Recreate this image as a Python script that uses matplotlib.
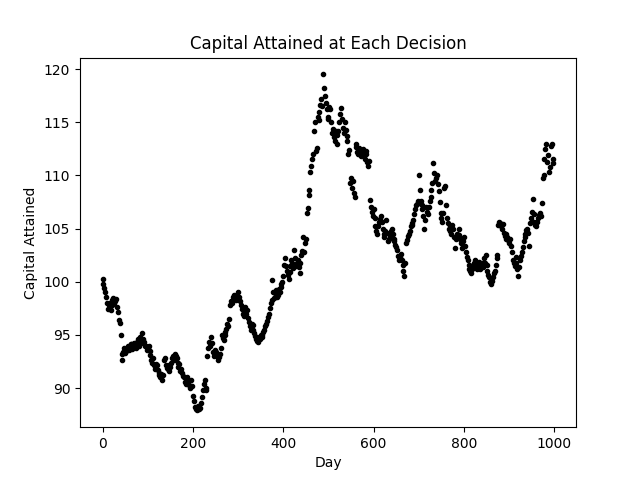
import matplotlib
matplotlib.use('Agg')
import matplotlib.pyplot as plt
import numpy as np

# capital every 2 days
days = np.arange(0, 1000, 2)

capital = [
    100.3, 99.8, 99.4, 99.0, 98.6, 98.0, 97.4, 97.8, 98.0, 97.3, 97.8, 98.3, 98.5, 98.0, 98.2, 98.4, 97.6, 97.2, 96.4, 96.1,
    95.0, 93.2, 92.6, 93.4, 93.8, 93.3, 93.5, 93.7, 94.0, 93.6, 93.8, 94.1, 94.1, 93.7, 93.9, 94.2, 94.0, 93.8, 94.3, 94.6,
    94.0, 94.5, 94.8, 94.2, 95.2, 94.6, 94.3, 94.0, 94.0, 93.6, 93.8, 94.0, 93.5, 93.1, 92.6, 92.4, 92.8, 92.2, 91.8, 92.3,
    92.2, 91.7, 91.4, 91.2, 91.0, 91.3, 90.8, 91.2, 92.6, 92.8, 92.2, 91.9, 91.8, 92.2, 91.6, 92.0, 92.4, 92.8, 93.0, 92.6,
    93.2, 93.0, 92.8, 92.4, 92.0, 92.3, 91.6, 91.8, 91.4, 91.1, 91.0, 90.6, 90.4, 90.8, 91.0, 90.7, 90.3, 90.0, 90.8, 90.2,
    89.3, 88.8, 88.2, 88.0, 87.9, 88.1, 88.3, 88.0, 88.1, 88.6, 89.2, 89.8, 90.4, 90.8, 90.0, 89.8, 93.0, 93.8, 94.3, 94.0,
    94.8, 94.2, 93.4, 93.0, 93.2, 93.6, 93.4, 93.0, 92.6, 92.9, 93.2, 93.8, 95.0, 94.7, 94.5, 95.0, 95.3, 95.6, 96.0, 95.8,
    96.5, 97.8, 98.2, 98.0, 98.6, 98.4, 98.8, 98.5, 98.3, 98.7, 99.0, 98.6, 98.2, 97.8, 97.4, 97.0, 96.8, 97.2, 97.6, 97.0,
    97.3, 96.6, 96.2, 95.8, 95.5, 96.0, 95.9, 95.5, 95.2, 94.9, 94.6, 94.4, 94.3, 94.8, 94.6, 95.0, 95.0, 94.8, 95.3, 95.5,
    95.8, 96.0, 96.3, 96.7, 97.0, 97.5, 98.0, 98.3, 100.2, 99.0, 98.5, 98.9, 99.2, 98.6, 98.8, 99.3, 99.0, 99.5, 99.8, 100.0,
    100.5, 101.6, 102.2, 101.5, 101.0, 100.6, 100.3, 100.9, 101.5, 102.0, 101.8, 101.3, 103.0, 102.2, 101.5, 101.8, 102.0, 101.4, 100.8, 101.8,
    102.5, 102.9, 104.2, 102.8, 103.6, 104.0, 106.5, 106.9, 108.2, 108.6, 110.3, 110.9, 111.5, 112.0, 114.2, 115.0, 112.3, 112.6, 115.5, 115.2,
    116.0, 116.6, 117.2, 116.5, 119.5, 118.2, 117.5, 116.8, 116.2, 115.5, 115.3, 116.4, 116.2, 115.0, 114.0, 114.4, 113.6, 113.2, 114.2, 113.8,
    113.0, 114.2, 115.0, 115.8, 116.3, 115.3, 114.5, 114.0, 115.0, 114.3, 113.2, 113.7, 112.0, 112.4, 109.3, 109.8, 108.8, 109.5, 108.3, 108.0,
    112.7, 113.0, 112.2, 112.0, 112.6, 112.3, 111.8, 112.2, 112.5, 111.9, 111.5, 112.3, 112.0, 111.3, 110.9, 111.4, 107.7, 107.0, 106.6, 106.2,
    106.8, 106.0, 105.2, 104.8, 104.5, 105.2, 105.6, 105.9, 106.2, 105.6, 105.0, 104.5, 104.2, 104.8, 105.8, 104.6, 103.8, 104.0, 104.3, 104.8,
    105.0, 104.5, 104.0, 103.8, 103.5, 103.3, 103.0, 102.4, 102.0, 102.3, 102.6, 102.0, 101.6, 101.0, 100.5, 101.8, 103.6, 103.9, 104.3, 104.5,
    104.8, 105.2, 105.5, 105.3, 105.8, 106.4, 106.8, 107.2, 107.3, 107.6, 110.0, 108.6, 107.6, 107.2, 106.8, 106.2, 105.0, 105.8, 107.0, 106.6,
    106.4, 107.0, 107.6, 108.0, 108.6, 109.3, 111.2, 110.2, 109.5, 109.8, 110.0, 109.2, 108.5, 107.5, 106.0, 106.5, 105.6, 106.5, 108.8, 109.0,
    107.2, 106.0, 105.5, 105.0, 105.2, 104.8, 104.5, 105.3, 105.0, 104.2, 103.2, 104.0, 104.5, 104.2, 105.0, 104.4, 104.0, 103.6, 103.2, 103.8,
    104.2, 103.4, 102.8, 102.3, 102.0, 101.6, 101.2, 101.0, 100.8, 101.2, 101.6, 101.8, 102.0, 101.5, 101.2, 101.4, 101.6, 101.9, 101.2, 101.5,
    101.8, 101.4, 102.2, 101.8, 102.5, 101.6, 101.0, 100.6, 100.4, 100.0, 99.8, 100.1, 100.4, 100.8, 101.0, 101.6, 102.2, 102.5, 105.3, 105.6,
    105.5, 105.2, 105.0, 105.4, 104.6, 104.3, 104.0, 104.5, 104.2, 103.9, 103.6, 104.0, 103.4, 102.8, 102.0, 101.8, 101.5, 102.3, 101.8, 101.2,
    100.5, 101.4, 102.0, 102.4, 102.8, 103.3, 103.8, 104.2, 104.5, 104.9, 105.0, 104.6, 103.4, 105.5, 106.0, 106.6, 107.8, 106.4, 105.6, 105.3,
    105.2, 105.6, 106.0, 106.3, 106.5, 106.2, 107.4, 109.8, 110.0, 111.5, 112.5, 113.0, 111.3, 111.9, 110.3, 110.8, 112.8, 113.0, 111.5, 111.2,
]

plt.figure(figsize=(6.4, 4.8), dpi=100)
plt.plot(days, capital, 'k.')
plt.title('Capital Attained at Each Decision')
plt.xlabel('Day')
plt.ylabel('Capital Attained')
plt.savefig('out.png')
